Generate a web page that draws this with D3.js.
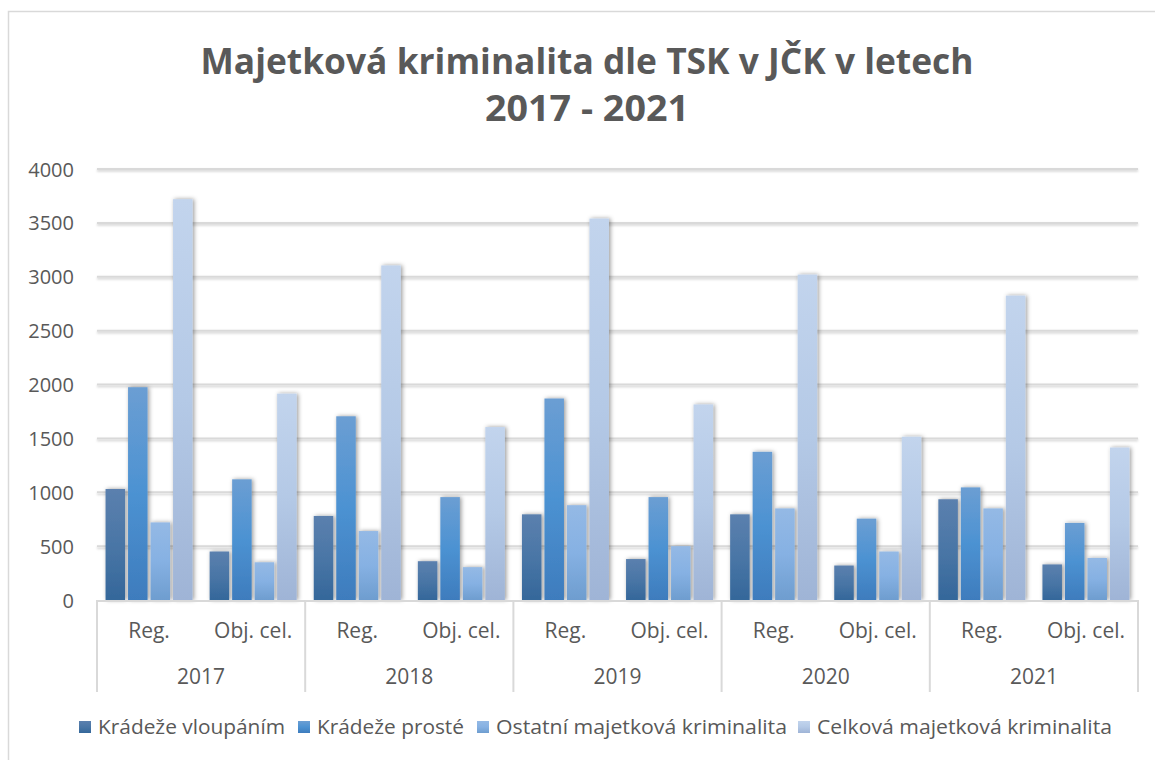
<!DOCTYPE html>
<meta charset="utf-8">
<script src="https://d3js.org/d3.v7.min.js"></script>
<style>
  body { margin: 0; background: #fff; }
  text { font-family: "Open Sans", sans-serif; fill: #595959; }
</style>
<div id="chart"></div>
<script>
// data
var years = ["2017", "2018", "2019", "2020", "2021"];
var subcats = ["Reg.", "Obj. cel."];
var series = ["Krádeže vloupáním", "Krádeže prosté", "Ostatní majetková kriminalita", "Celková majetková kriminalita"];
// values per year: [Reg., Obj. cel.]
var vloupanim = [[1030, 450], [780, 360], [795, 380], [795, 320], [935, 330]];
var proste    = [[1975, 1120], [1705, 955], [1870, 955], [1375, 755], [1045, 715]];
var ostatni   = [[720, 350], [640, 305], [880, 500], [850, 450], [850, 390]];
var celkova   = [[3720, 1915], [3105, 1605], [3540, 1815], [3020, 1515], [2825, 1415]];
var yTicks = [0, 500, 1000, 1500, 2000, 2500, 3000, 3500, 4000];

var allSeries = [vloupanim, proste, ostatni, celkova];
var gradStops = [
  ["#5b80ae", "#4a76a6", "#34679a"],
  ["#6b9ed3", "#4c92d2", "#3e7cbd"],
  ["#94b9e5", "#86b1e3", "#6e9dcf"],
  ["#c2d4ed", "#b4c9e6", "#9fb4d6"]
];

var W = 1155, H = 760;
var plotL = 97, plotR = 1138, plotT = 169, plotB = 600;

var svg = d3.select("#chart").append("svg")
  .attr("width", W).attr("height", H);

var defs = svg.append("defs");
gradStops.forEach(function(st, i) {
  var g = defs.append("linearGradient").attr("id", "g" + i)
    .attr("x1", 0).attr("y1", 0).attr("x2", 0).attr("y2", 1);
  g.append("stop").attr("offset", "0%").attr("stop-color", st[0]);
  g.append("stop").attr("offset", "50%").attr("stop-color", st[1]);
  g.append("stop").attr("offset", "100%").attr("stop-color", st[2]);
});
var f = defs.append("filter").attr("id", "shadow")
  .attr("x", "-50%").attr("y", "-10%").attr("width", "200%").attr("height", "120%");
f.append("feDropShadow").attr("dx", 1.5).attr("dy", 0).attr("stdDeviation", 2)
  .attr("flood-color", "#000").attr("flood-opacity", 0.4);
// lines have a zero-height box, so this one works in user space
var fl = defs.append("filter").attr("id", "lshadow").attr("filterUnits", "userSpaceOnUse")
  .attr("x", 0).attr("y", 0).attr("width", W).attr("height", H);
fl.append("feDropShadow").attr("dx", 0).attr("dy", 1.5).attr("stdDeviation", 1)
  .attr("flood-color", "#000").attr("flood-opacity", 0.2);

// chart border (only top/left visible in the crop)
svg.append("rect").attr("x", 8.5).attr("y", 11.5).attr("width", 1200).attr("height", 800)
  .attr("fill", "none").attr("stroke", "#d9d9d9").attr("stroke-width", 1.5);

// title
svg.append("text").attr("x", 587).attr("y", 74).attr("text-anchor", "middle")
  .style("font-size", "36px").style("font-weight", "bold")
  .attr("textLength", 773).attr("lengthAdjust", "spacingAndGlyphs")
  .text("Majetková kriminalita dle TSK v JČK v letech");
svg.append("text").attr("x", 587).attr("y", 121).attr("text-anchor", "middle")
  .style("font-size", "36px").style("font-weight", "bold")
  .attr("textLength", 204).attr("lengthAdjust", "spacingAndGlyphs")
  .text("2017 - 2021");

// scales
var y = d3.scaleLinear().domain([0, 4000]).range([plotB, plotT]);
var x0 = d3.scaleBand().domain(years).range([plotL, plotR]).padding(0);
var x1 = d3.scaleBand().domain(subcats).range([0, x0.bandwidth()]).padding(0);
var x2 = d3.scaleBand().domain(d3.range(series.length)).range([0, x1.bandwidth()])
  .paddingInner(0.133).paddingOuter(0.38);

// gridlines
svg.append("g").selectAll("line").data(yTicks.slice(1)).enter().append("line")
  .attr("x1", plotL).attr("x2", plotR)
  .attr("y1", function(d) { return y(d); }).attr("y2", function(d) { return y(d); })
  .attr("stroke", "#d9d9d9").attr("stroke-width", 2)
  .attr("filter", "url(#lshadow)");

// y axis labels
var yAxis = svg.append("g").attr("transform", "translate(" + (plotL - 23) + ",0)")
  .call(d3.axisLeft(y).tickValues(yTicks).tickFormat(d3.format("d")).tickSize(0).tickPadding(0));
yAxis.select(".domain").remove();
yAxis.selectAll("text").style("font-size", "20px").style("font-family", "'Open Sans', sans-serif")
  .attr("fill", "#595959").attr("dy", "0.35em");

// bars
var rows = [];
years.forEach(function(yr, yi) {
  subcats.forEach(function(sc, si) {
    allSeries.forEach(function(s, k) {
      rows.push({year: yr, sub: sc, k: k, v: s[yi][si]});
    });
  });
});
svg.append("g").selectAll("rect").data(rows).enter().append("rect")
  .attr("x", function(d) { return x0(d.year) + x1(d.sub) + x2(d.k); })
  .attr("width", x2.bandwidth())
  .attr("y", function(d) { return y(d.v); })
  .attr("height", function(d) { return plotB - y(d.v); })
  .attr("fill", function(d) { return "url(#g" + d.k + ")"; })
  .attr("filter", "url(#shadow)");

// x axis: baseline and year separators
var axG = svg.append("g");
axG.append("line").attr("x1", plotL).attr("x2", plotR).attr("y1", plotB + 1).attr("y2", plotB + 1)
  .attr("stroke", "#d9d9d9").attr("stroke-width", 2);
axG.selectAll(".sep").data(years.concat(["end"])).enter().append("line")
  .attr("x1", function(d, i) { return i < years.length ? x0(d) : plotR; })
  .attr("x2", function(d, i) { return i < years.length ? x0(d) : plotR; })
  .attr("y1", plotB).attr("y2", 692)
  .attr("stroke", "#d9d9d9").attr("stroke-width", 2);

// sub-category and year labels
years.forEach(function(yr) {
  subcats.forEach(function(sc) {
    axG.append("text").attr("x", x0(yr) + x1(sc) + x1.bandwidth() / 2).attr("y", 638)
      .attr("text-anchor", "middle").style("font-size", "21px").text(sc);
  });
  axG.append("text").attr("x", x0(yr) + x0.bandwidth() / 2).attr("y", 684)
    .attr("text-anchor", "middle").style("font-size", "21px").text(yr);
});

// legend
var legX = [79, 298, 477, 798];
var legW = [187, 147, 291, 295];
var lg = svg.append("g");
series.forEach(function(s, i) {
  lg.append("rect").attr("x", legX[i]).attr("y", 721).attr("width", 12).attr("height", 12)
    .attr("fill", "url(#g" + i + ")");
  lg.append("text").attr("x", legX[i] + 19).attr("y", 734).style("font-size", "20px")
    .attr("textLength", legW[i]).attr("lengthAdjust", "spacingAndGlyphs").text(s);
});
</script>
